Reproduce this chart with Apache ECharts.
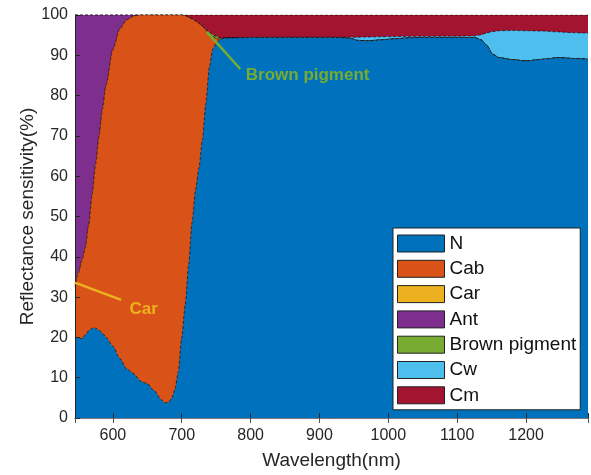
<!DOCTYPE html>
<html>
<head>
<meta charset="utf-8">
<script src="https://cdn.jsdelivr.net/npm/echarts@6/dist/echarts.min.js"></script>
<style>html,body{margin:0;padding:0;background:#fff;}#c{width:591px;height:475px;}</style>
</head>
<body>
<div id="c"></div>
<script>
const wavelength = [545,550,555,560,565,570,575,580,585,590,600,610,620,630,640,650,660,670,675,680,685,690,695,700,705,710,715,720,725,730,735,740,745,750,755,760,770,780,800,850,900,930,945,955,970,990,1010,1030,1050,1100,1125,1135,1142,1152,1161,1180,1200,1224,1247,1270,1290];
const seriesNames = ['N','Cab','Car','Ant','Brown pigment','Cw','Cm'];
const N   = [20.3,19.8,19.7,20.6,21.7,22.3,22.3,21.8,21.0,20.0,17.8,14.8,12.2,11.0,9.2,8.5,6.8,4.6,3.8,3.8,4.8,7.0,11.5,20.0,28.0,38.0,48.5,56.5,62.0,69.0,78.0,87.0,91.5,93.0,93.8,94.2,94.3,94.3,94.4,94.4,94.4,94.4,94.2,93.7,93.6,93.8,94.1,94.3,94.4,94.4,94.4,93.8,92.6,90.2,89.4,88.9,88.6,89.0,89.4,89.2,89.0];
const Cab = [12.2,16.0,19.3,21.6,26.3,33.2,40.7,48.2,55.7,62.5,73.6,81.7,86.6,88.7,90.8,91.5,93.2,95.4,96.2,96.2,95.2,93.0,88.5,80.0,71.8,61.4,50.5,42.0,35.9,28.2,18.3,8.3,3.1,1.2,0.1,0,0,0,0,0,0,0,0,0,0,0,0,0,0,0,0,0,0,0,0,0,0,0,0,0,0];
const Car = [0.7,0.4,0.2,0.1,0,0,0,0,0,0,0,0,0,0,0,0,0,0,0,0,0,0,0,0,0,0,0,0,0,0,0,0,0,0,0,0,0,0,0,0,0,0,0,0,0,0,0,0,0,0,0,0,0,0,0,0,0,0,0,0,0];
const Ant = [66.8,63.8,60.8,57.7,52.0,44.5,37.0,30.0,23.3,17.5,8.6,3.5,1.2,0.3,0,0,0,0,0,0,0,0,0,0,0,0,0,0,0,0,0,0,0,0,0,0,0,0,0,0,0,0,0,0,0,0,0,0,0,0,0,0,0,0,0,0,0,0,0,0,0];
const Brown = [0,0,0,0,0,0,0,0,0,0,0,0,0,0,0,0,0,0,0,0,0,0,0,0,0,0,0,0,0,0,0.2,0.4,0.5,0.5,0.4,0.1,0,0,0,0,0,0,0,0,0,0,0,0,0,0,0,0,0,0,0,0,0,0,0,0,0];
const Cw  = [0,0,0,0,0,0,0,0,0,0,0,0,0,0,0,0,0,0,0,0,0,0,0,0,0,0,0,0,0,0,0,0,0,0,0,0,0.05,0.1,0.05,0.1,0.1,0.1,0.3,0.8,0.95,0.8,0.55,0.4,0.3,0.35,0.4,1.3,2.9,5.7,6.7,7.25,7.5,7.0,6.4,6.4,6.5];
const Cm  = [0,0,0,0,0,0,0,0,0,0,0,0,0,0,0,0,0,0,0,0,0,0,0,0,0.2,0.6,1.0,1.5,2.1,2.8,3.5,4.3,4.9,5.3,5.7,5.7,5.65,5.6,5.55,5.5,5.5,5.5,5.5,5.5,5.45,5.4,5.35,5.3,5.3,5.25,5.2,4.9,4.5,4.1,3.9,3.85,3.9,4.0,4.2,4.4,4.5];
const colors = ['#0072BD','#D95319','#EDB120','#7E2F8E','#77AC30','#4DBEEE','#A2142F'];
const yTicks = [0,10,20,30,40,50,60,70,80,90,100];

const allValues = [N,Cab,Car,Ant,Brown,Cw,Cm];
const font = 'Liberation Sans, Arial, Helvetica, sans-serif';
const txt = '#262626';

// cumulative tops of each layer (stack built from the component arrays)
const cumulative = [];
allValues.forEach((arr,i)=>{
  cumulative.push(arr.map((v,j)=> (i === 0 ? 0 : cumulative[i-1][j]) + v));
});

const chart = echarts.init(document.getElementById('c'), null, {renderer:'canvas'});
const series = seriesNames.map((name,i)=>({
  name: name,
  type: 'line',
  symbol: 'none',
  smooth: 0.25,
  smoothMonotone: 'x',
  z: 20 - i,
  data: wavelength.map((w,j)=>[w, Math.min(100, cumulative[i][j])]),
  lineStyle: {color:'#000', width:0.8, type:[3,2], opacity:0.75},
  itemStyle: {color: colors[i]},
  areaStyle: {color: colors[i], opacity:1, origin:'start'},
  emphasis: {disabled:true},
  animation: false
}));

chart.setOption({
  animation: false,
  grid: {left:75, top:15, width:517, height:408, containLabel:false},
  xAxis: [{
    type:'value', min:545, max:1290, splitNumber:7,
    name:'Wavelength(nm)', nameLocation:'middle', nameGap:33, nameMoveOverlap:false,
    nameTextStyle:{fontFamily:font, fontSize:19, color:txt},
    axisLine:{show:true, onZero:false, lineStyle:{color:txt, width:1}},
    axisTick:{show:true, inside:true, length:5, lineStyle:{color:txt}},
    axisLabel:{fontFamily:font, fontSize:16, color:txt, margin:10,
      formatter:(v)=> (v % 100 === 0 ? String(v) : '')},
    splitLine:{show:false}, z:30
  },{
    type:'value', min:545, max:1290, splitNumber:7, position:'top',
    axisLine:{show:true, lineStyle:{color:'#777', width:1}},
    axisTick:{show:true, inside:true, length:5, lineStyle:{color:'#555'}},
    axisLabel:{show:false}, splitLine:{show:false}, z:30
  }],
  yAxis: {
    type:'value', min:0, max:100, interval:10,
    name:'Reflectance sensitivity(%)', nameLocation:'middle', nameGap:38, nameMoveOverlap:false,
    nameTextStyle:{fontFamily:font, fontSize:19, color:txt},
    axisLine:{show:true, lineStyle:{color:txt, width:1}},
    axisTick:{show:true, inside:true, length:5, lineStyle:{color:txt}},
    axisLabel:{fontFamily:font, fontSize:16, color:txt, margin:7,
      formatter:(v)=> (yTicks.indexOf(v) >= 0 ? String(v) : '')},
    splitLine:{show:false}, z:30
  },
  legend: {
    orient:'vertical', left:393, top:228, z:50,
    icon:'rect', itemWidth:47, itemHeight:17, itemGap:6.3,
    padding:[6,4,5,4],
    backgroundColor:'#fff', borderColor:'#222', borderWidth:1, borderRadius:0,
    textStyle:{fontFamily:font, fontSize:19, lineHeight:18, color:'#111'},
    data: seriesNames.map((n,i)=>({name:n, itemStyle:{color:colors[i], borderColor:'#222', borderWidth:1}})),
    selectedMode:false
  },
  series: series
});

function px(x,y){ return chart.convertToPixel({xAxisIndex:0,yAxisIndex:0},[x,y]); }
const carA = px(545,33.6), carB = px(612,29.3), carT = px(624,27.0);
const brA = px(736.5,95.8), brB = px(785,86.6), brT = px(793,85.0);
chart.setOption({
  graphic: [
    {type:'line', shape:{x1:carA[0],y1:carA[1],x2:carB[0],y2:carB[1]}, style:{stroke:'#EDB120', lineWidth:2.5}, z:100},
    {type:'text', x:carT[0], y:carT[1], style:{text:'Car', fill:'#EDB120', font:'bold 17px '+font, textVerticalAlign:'middle'}, z:100},
    {type:'line', shape:{x1:brA[0],y1:brA[1],x2:brB[0],y2:brB[1]}, style:{stroke:'#77AC30', lineWidth:2.5}, z:100},
    {type:'text', x:brT[0], y:brT[1], style:{text:'Brown pigment', fill:'#77AC30', font:'bold 17px '+font, textVerticalAlign:'middle'}, z:100}
  ]
});
</script>
</body>
</html>
